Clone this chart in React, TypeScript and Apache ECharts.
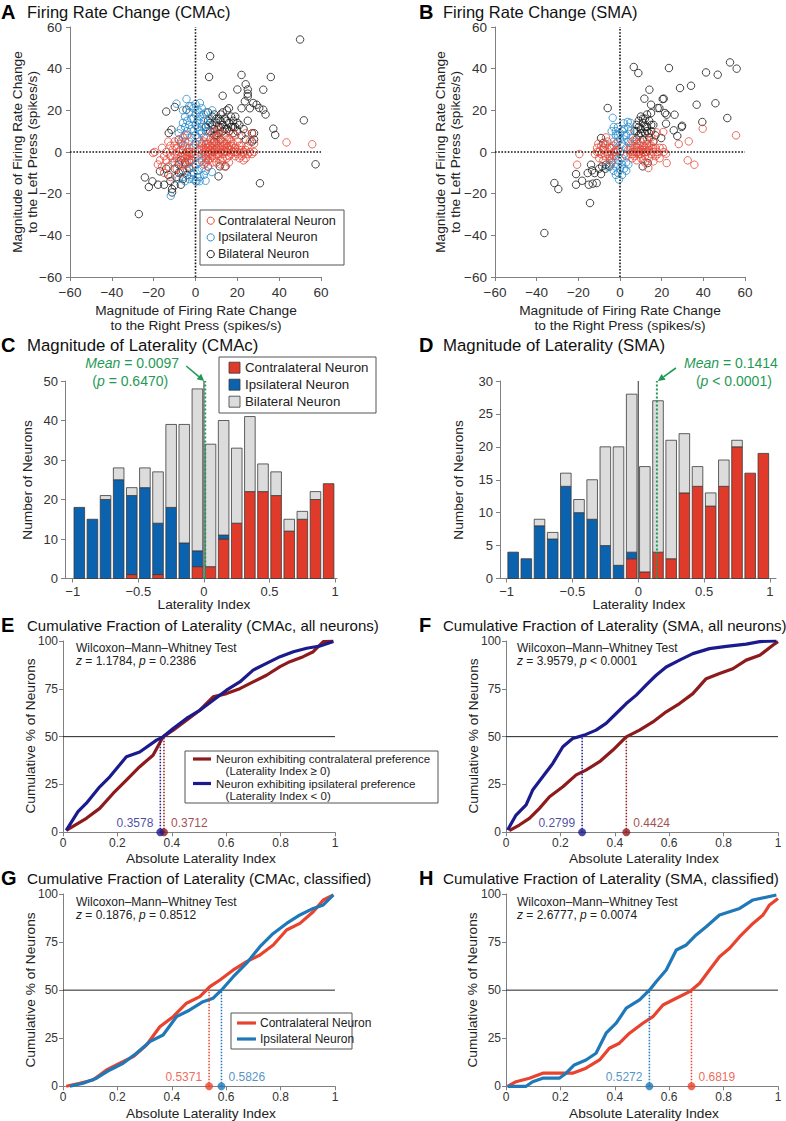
import React, { useEffect, useRef } from "react";
import * as echarts from "echarts";

const FONT = '"Liberation Sans", Arial, Helvetica, sans-serif';

// ---------- colours ----------
const SC_RED = "#e5483a";
const SC_BLUE = "#2b8ccc";
const SC_BLACK = "#1a1a1a";
const H_RED = "#e03a2a";
const H_BLUE = "#0b63b0";
const H_GRAY = "#dcdcdc";
const D_RED = "#8e1b1b";
const D_BLUE = "#1b1b8e";
const C_RED = "#e8432e";
const C_BLUE = "#1f78b8";
const GREEN = "#1f9a55";
const AXIS = "#808080";
const TXT = "#222";

// ---------- panel texts ----------
const panelLetters = ["A", "B", "C", "D", "E", "F", "G", "H"];
const panelTitles = [
  "Firing Rate Change (CMAc)",
  "Firing Rate Change (SMA)",
  "Magnitude of Laterality (CMAc)",
  "Magnitude of Laterality (SMA)",
  "Cumulative Fraction of Laterality (CMAc, all neurons)",
  "Cumulative Fraction of Laterality (SMA, all neurons)",
  "Cumulative Fraction of Laterality (CMAc, classified)",
  "Cumulative Fraction of Laterality (SMA, classified)",
];
const neuronTypes = ["Contralateral Neuron", "Ipsilateral Neuron", "Bilateral Neuron"];

// ---------- A: scatter CMAc ----------
const contraA = [
  [2, 1], [3, -1], [3, 3], [4, 0], [4, 5], [5, -2], [5, 2], [5, 7], [6, 0], [6, 4], [6, -4], [7, 1], [7, 3], [7, -1], [7, 6],
  [8, -2], [8, 2], [8, 4], [8, 9], [9, 0], [9, -3], [9, 3], [9, 6], [10, 1], [10, -1], [10, 4], [11, 2], [11, -2], [11, 7],
  [12, 0], [12, 3], [12, -4], [13, 1], [13, 5], [13, -1], [14, 2], [14, 8], [15, 0], [15, -3], [15, 4], [16, 1], [16, 6],
  [17, -1], [17, 3], [18, 0], [18, 9], [19, 2], [19, -2], [20, 0], [20, 5], [21, 1], [22, -2], [22, 3], [23, -1], [23, 0],
  [24, -3], [24, 1], [25, 3], [26, 0], [27, -1], [28, 0], [28, 4], [27, 9], [24, 9], [19, 8], [16, -5], [12, -6], [10, -5],
  [6, -7], [3, -4], [2, 5], [4, -6], [9, 10], [11, 11], [14, -7], [21, -3], [23, -4], [26, 5], [43.5, 4.6], [55.8, 3.7],
  [4, 2], [6, 2], [8, 0], [10, 2], [12, 1], [14, 0], [8, -5], [5, -5], [13, 3], [15, 2], [17, 1], [11, 5], [16, 3], [18, 4],
  [5, 4], [7, -3], [9, 1], [11, -1], [13, -3], [15, 6], [17, 5], [19, 0], [21, 3], [3, 1], [6, -1], [10, 7], [12, 9], [20, -1],
  [25, -1], [22, 1], [16, -2], [14, 4],
  [-1, -2], [-2, 0], [-2, -4], [-3, 2], [-3, -2], [-4, 0], [-4, -5], [-5, 3], [-5, -1], [-5, -3], [-6, 1], [-6, -6], [-7, 4],
  [-7, -2], [-8, 0], [-8, 6], [-9, -3], [-9, 2], [-10, -1], [-10, 5], [-11, -5], [-11, 1], [-12, 3], [-12, -2], [-13, -7],
  [-14, 0], [-14, -4], [-15, -10], [-16, -7], [-17, -4], [-19.5, 0], [-20.3, -0.5], [-13, 5], [-6, 7], [-4, 8], [-9, -8],
  [-3, -7], [-1, 3], [-12, -12], [-7, -10], [-2, -1], [-4, -2], [-6, -2], [-3, 0], [-7, 1], [-5, -6], [-8, -5], [-10, 3],
  [-5, 5], [-3, -4], [-11, -3], [-15, -2], [-16, 2], [-18, -6],
];
const ipsiA = [
  [-4.3, 25.4], [-9.1, 23.2], [2.1, 23.5], [-1, 21], [1, 20], [3, 21], [-3, 19], [0, 18], [2, 17], [5, 19], [-5, 17], [-2, 16],
  [1, 15], [4, 15], [-6, 14], [-3, 13], [0, 13], [3, 12], [6, 13], [-7, 11], [-4, 10], [-1, 10], [2, 10], [5, 10], [-5, 8],
  [-2, 7], [1, 7], [4, 7], [-8, 6], [-3, 5], [0, 4], [3, 4], [-6, 3], [-1, 2], [7, 16], [8, 20], [-2, 22], [-8, 9], [1, -2],
  [2, -5], [0, -6], [-2, -4], [3, -8], [1, -9], [-1, -10], [4, -11], [2, -12], [-3, -13], [0, -14], [0.5, -14.1], [4.8, -13.8],
  [7.8, -9.6], [6, -7], [-4, -9], [-6, -12], [-11.8, -21], [5, -3], [-8, -13], [-10, -5], [-2, 11], [1, 12], [3, 9], [-4, 15],
  [0, 8], [2, 14], [-1, -7], [3, -3], [-2, -11], [1, -12], [-5, 12], [-3, 22], [0, 23], [4, 18], [6, 10], [-7, 5], [-1, 16],
  [2, 19], [-6, 20], [-3, -5], [2, -14], [5, -9], [-5, -14], [-1, -13],
];
const bilatA = [
  [50, 54], [7, 46], [6.5, 36], [22, 37], [36, 36], [13, 27], [20, 30], [24, 32.5], [25, 30], [25, 28], [25, 26.7], [23.6, 24.3],
  [32.4, 29.9], [27.6, 23.5], [29.2, 22.7], [30.5, 21.1], [32.4, 20.3], [33.5, 18], [26, 21], [22, 21], [51.8, 15.2], [37.2, 11.2],
  [38.1, 8.2], [57.4, -5.9], [30.8, -15], [11, -11.7], [-14, 19.4], [-9.9, 21.6], [-4.3, 20.3], [-12.8, 9.1], [-11.5, 10.7],
  [-24.2, -12.2], [-22.3, -16.8], [-20.6, -14.1], [-17.9, -15.7], [-15, -15.7], [-17, -9.3], [-11.2, -17.8], [-11.2, -19.4],
  [-7, -15.7], [-27.1, -29.8], [-9, -12], [-6, -9], [-8, -6], [-5, -5], [-10, -8], [-7, -4], [-4, -11], [-13, -11], [-14, -8],
  [5, 12], [6, 15], [7, 10], [8, 13], [8, 17], [9, 8], [9, 11], [10, 14], [10, 16], [11, 9], [11, 12], [12, 15], [12, 18],
  [13, 10], [13, 13], [14, 16], [15, 11], [15, 20], [16, 14], [17, 12], [17, 17], [18, 9], [18, 15], [19, 12], [20, 10],
  [21, 13], [22, 8], [23, 11], [24, 6], [27, 9], [27, 5], [25, 15], [9, 5], [12, 6], [6, 19], [16, 21], [14.4, -6.9],
  [11.6, -6.9], [28, 9], [28, 6], [7, 14], [9, 18], [11, 16], [13, 19], [14, 11], [16, 10], [18, 12], [20, 14], [19, 17],
  [10, 8], [12, 12], [15, 15], [-6, -13], [-8, -10], [-12, -14], [-10, -16], [-3, -8],
];

// ---------- B: scatter SMA ----------
const contraB = [
  [55.7, 8], [39.7, 11.2], [33, 5.1], [28.2, 3.8], [32.5, -4], [35.7, -6.1], [22.1, -0.8], [22.4, -5.3], [20.5, 1.9],
  [17.6, 9.4], [20.8, 9.6], [16, -4.5], [13.6, -7.7], [-19.5, -1], [-20.6, -6.1], [-10.4, 4], [-6.7, 7], [-7, 3.2],
  [4, 1], [5, -1], [5, 3], [6, 0], [6, 5], [7, 2], [7, -2], [8, 0], [8, 4], [9, -1], [9, 2], [10, 1], [10, -3], [10, 5],
  [11, 0], [11, 3], [12, -2], [12, 2], [13, 0], [13, 4], [14, 1], [14, -3], [15, -1], [15, 3], [16, 0], [16, 5], [17, 2],
  [17, -2], [18, 0], [18, -1], [19, 2], [12, -5], [8, -4], [6, -3], [15, 7], [19, -3], [21, 0], [3, -2], [7, 6], [9, 4],
  [11, -4], [13, 6], [5, 1], [7, 0], [9, 0], [11, 1], [13, 2], [8, 2], [10, -1], [12, 0], [14, 3], [16, 2], [6, -1],
  [-1, 1], [-2, -2], [-3, 0], [-3, 3], [-4, -1], [-5, 2], [-5, -3], [-6, 0], [-7, -2], [-7, 4], [-8, 1],
  [-8, -4], [-9, -1], [-9, 3], [-10, -3], [-11, 0], [-11, 2], [-12, -1], [-4, -5], [-2, 4], [-6, 5], [-4, 2], [-6, -1],
  [-8, 2], [-10, 0], [-2, 0], [-5, -2],
];
const ipsiB = [
  [-3.5, 16.4], [3.7, 14.4], [1.8, 13.8], [5, 14], [-1, 12], [2, 11], [-4, 10], [-2, 8], [0, 9], [3, 8], [5, 10], [-3, 5],
  [-1, 5], [1, 4], [4, 5], [6, 7], [-2, 1], [0, 0], [2, -1], [-4, -3], [-1, -4], [1, -3], [3, -5], [-2, -7], [0, -8], [2, -8],
  [-3, -9], [-1, -10], [1, -11], [4, -6], [-5, -6], [-0.5, -13.2], [-6, -7], [5, 2], [-3, 12], [2, 6], [0, 6], [-1, -6], [3, 2],
  [-2, 10], [1, 10], [4, 12], [-1, 8], [2, 8], [-3, -2], [1, -6], [-2, -11], [3, -9],
];
const bilatB = [
  [6.6, 40.8], [8.8, 37.9], [23.5, 40.3], [52.8, 43], [56, 40], [41.3, 38.2], [46.9, 37.1], [34.1, 31.8], [28.8, 30.7],
  [14.1, 29.9], [11.7, 25.6], [20.5, 25.4], [21, 25.6], [36.8, 22.7], [45.8, 23.4], [51.5, 16.3], [39.5, 14.4], [29.8, 12.6],
  [29.6, 12], [27.5, 7.7], [25.8, 10.4], [26.2, 17.9], [22.4, 17.9], [21.6, 18.7], [18.9, 21.1], [18.1, 21.1], [22.1, 13.6],
  [14.9, 22.7], [14.9, 18.7], [-5.9, 21.1], [-36.3, -38.9], [-14.4, -24.5], [-31.5, -14.9], [-29.6, -17.8], [-21.1, -10.6],
  [-21.1, -15.7], [-18.2, -13.8], [-15.5, -10.1], [-13.9, -6.1], [-15, -15.7], [-13.1, -15.2], [-11.2, -14.9], [-13.4, -8.8],
  [-12.2, -10.1], [-9.1, -10.6], [-8.6, -6.9], [-6.7, -6.1], [-9.1, 6.7], [-8, 4.3], [7, 10], [8, 13], [9, 8], [9, 15],
  [10, 11], [11, 6], [11, 14], [12, 9], [12, 16], [13, 12], [14, 7], [14, 15], [15, 10], [16, 13], [17, 8], [10, 17], [8, 6],
  [13, 18], [16, 5], [10.9, -6.9], [13.3, -5.3], [19.8, 6.7], [8, 10], [10, 9], [12, 12], [11, 16], [13, 10], [15, 13],
  [9, 12], [14, 9], [-7, -8], [-10, -8], [-5, -7],
];

// ---------- C / D: histograms ----------
const binCenters = [-0.95, -0.85, -0.75, -0.65, -0.55, -0.45, -0.35, -0.25, -0.15, -0.05, 0.05, 0.15, 0.25, 0.35, 0.45, 0.55, 0.65, 0.75, 0.85, 0.95];
const histC_contra = [0, 0, 0, 0, 1, 0, 1, 0, 0, 3, 3, 10, 14, 22, 22, 21, 12, 15, 20, 24];
const histC_ipsi = [18, 15, 20, 25, 20, 23, 13, 18, 9, 4, 0, 1, 0, 0, 0, 0, 0, 0, 0, 0];
const histC_bilat = [0, 0, 1, 3, 2, 5, 13, 21, 30, 41, 31, 29, 19, 19, 7, 6, 3, 2, 2, 0];
const histD_contra = [0, 0, 0, 0, 0, 0, 0, 0, 0, 3, 1, 4, 3, 13, 14, 11, 14, 20, 16, 19];
const histD_ipsi = [4, 3, 8, 6, 14, 10, 9, 5, 2, 1, 0, 0, 0, 0, 0, 0, 0, 0, 0, 0];
const histD_bilat = [0, 0, 1, 1, 2, 2, 6, 15, 18, 24, 16, 23, 18, 9, 3, 2, 4, 1, 0, 0];
const meanC = 0.0097;
const meanD = 0.1414;
const meanTextC = ["0.0097", "= 0.6470)"];
const meanTextD = ["0.1414", "< 0.0001)"];
const histLabelTicks = [-1, -0.5, 0, 0.5, 1];

// ---------- E-H: cumulative curves ----------
const eContra = [[0.012, 1], [0.086, 7.3], [0.135, 12.5], [0.184, 20.3], [0.233, 27.3], [0.282, 34.3], [0.331, 40.3], [0.368, 49.9], [0.405, 53.4], [0.454, 58.6], [0.503, 63.8], [0.552, 70.8], [0.601, 72.5], [0.65, 75.1], [0.699, 78.6], [0.748, 82.1], [0.798, 86.6], [0.834, 89.2], [0.883, 91.8], [0.92, 94.4], [0.957, 99.7], [0.994, 100]];
const eIpsi = [[0.012, 1], [0.055, 10.8], [0.086, 15.2], [0.135, 23.8], [0.172, 29], [0.233, 39.5], [0.282, 42], [0.344, 48.2], [0.368, 49.9], [0.405, 54.3], [0.454, 59.5], [0.503, 63.8], [0.552, 69], [0.601, 74.3], [0.65, 78.6], [0.699, 84.8], [0.748, 88.3], [0.798, 91.8], [0.847, 94.4], [0.896, 96.2], [0.945, 97.4], [0.994, 99.7]];
const fIpsi = [[0.006, 1.2], [0.037, 9], [0.074, 14.3], [0.098, 22.1], [0.135, 29], [0.172, 36], [0.209, 44.7], [0.245, 49], [0.288, 50.8], [0.331, 53.4], [0.368, 56.9], [0.405, 62.1], [0.442, 67.3], [0.479, 71.7], [0.515, 76.9], [0.552, 82.1], [0.589, 86.4], [0.638, 90], [0.687, 93.4], [0.748, 96], [0.81, 97.2], [0.883, 98.4], [0.933, 99.7], [0.994, 100]];
const fContra = [[0.012, 0.9], [0.049, 3.8], [0.086, 7.3], [0.123, 12.5], [0.16, 18.6], [0.209, 23.8], [0.258, 30], [0.294, 32.5], [0.344, 36.9], [0.393, 43], [0.442, 49.9], [0.491, 53.4], [0.54, 57.7], [0.589, 63], [0.638, 67.3], [0.687, 72.5], [0.736, 80.3], [0.785, 83], [0.834, 85.5], [0.883, 90], [0.933, 92.5], [0.982, 97.9], [1, 99.7]];
const gContra = [[0.012, 0], [0.061, 1.6], [0.11, 3.3], [0.16, 8.5], [0.209, 12], [0.258, 15.4], [0.307, 21.5], [0.356, 31], [0.405, 36.2], [0.454, 43.2], [0.503, 46.6], [0.54, 51.8], [0.577, 55.3], [0.626, 60.5], [0.675, 64.8], [0.724, 68.3], [0.773, 73.5], [0.822, 81.3], [0.871, 84.7], [0.92, 90.8], [0.957, 96.9], [0.994, 99.5]];
const gIpsi = [[0.025, 0], [0.074, 1.6], [0.123, 4.2], [0.172, 8.5], [0.221, 12], [0.27, 17.2], [0.319, 23.2], [0.368, 26.7], [0.417, 36.2], [0.466, 39.7], [0.515, 44], [0.552, 45.8], [0.583, 50.1], [0.626, 57], [0.675, 64], [0.724, 72.6], [0.773, 79.5], [0.822, 84.7], [0.871, 89.1], [0.92, 92.5], [0.957, 94.3], [0.994, 99.5]];
const hContra = [[0.006, 0], [0.037, 2.4], [0.086, 4.2], [0.135, 6.8], [0.196, 6.8], [0.245, 6.8], [0.294, 9.4], [0.344, 13.7], [0.38, 19.8], [0.417, 22.4], [0.454, 27.6], [0.503, 32.8], [0.54, 36.2], [0.577, 42.3], [0.626, 45.8], [0.675, 49.2], [0.712, 53.6], [0.748, 60.5], [0.785, 67.4], [0.822, 71.8], [0.859, 77.8], [0.908, 84.7], [0.945, 89.1], [0.969, 94.3], [1, 97.7]];
const hIpsi = [[0.006, 0], [0.074, 0], [0.098, 2.4], [0.135, 4.2], [0.196, 4.2], [0.221, 6.8], [0.251, 11.1], [0.294, 13.7], [0.331, 17.2], [0.368, 27.6], [0.405, 32.8], [0.442, 40.6], [0.491, 44.9], [0.528, 50.1], [0.552, 54.4], [0.589, 60.5], [0.626, 70.9], [0.663, 73.5], [0.699, 78.7], [0.736, 83], [0.785, 89.1], [0.859, 92.5], [0.908, 96.9], [0.994, 99.5]];
const medians = {
  E: { contra: 0.3712, ipsi: 0.3578 },
  F: { contra: 0.4424, ipsi: 0.2799 },
  G: { contra: 0.5371, ipsi: 0.5826 },
  H: { contra: 0.6819, ipsi: 0.5272 },
};
const statsText = [
  ["1.1784", "= 0.2386"],
  ["3.9579", "< 0.0001"],
  ["0.1876", "= 0.8512"],
  ["2.6777", "= 0.0074"],
];
const legendE = [
  "Neuron exhibiting contralateral preference\n   (Laterality Index \u2265 0)",
  "Neuron exhibiting ipsilateral preference\n   (Laterality Index < 0)",
];

// ---------- layout ----------
const GRIDS = [
  { left: 70, top: 27, width: 251, height: 250 },
  { left: 495, top: 27, width: 250, height: 250 },
  { left: 65, top: 381, width: 272, height: 197.5 },
  { left: 500, top: 381, width: 276, height: 197.5 },
  { left: 63, top: 641, width: 272, height: 191.3 },
  { left: 506, top: 641, width: 272, height: 191.3 },
  { left: 63, top: 894, width: 272, height: 192.3 },
  { left: 506, top: 894, width: 272, height: 192.3 },
];

const neg = (v: number) => String(v).replace("-", "\u2212");

function axisBase(gi: number, fs: number, margin: number) {
  return {
    gridIndex: gi,
    type: "value",
    splitLine: { show: false },
    axisLine: { onZero: false, lineStyle: { color: AXIS, width: 1 } },
    axisTick: { length: 4, lineStyle: { color: AXIS } },
    axisLabel: { fontSize: fs, color: "#333", fontFamily: FONT, formatter: neg, margin },
  };
}

function buildOption() {
  const xAxis: any[] = [];
  const yAxis: any[] = [];
  for (const gi of [0, 1]) {
    xAxis.push({ ...axisBase(gi, 13.5, 8), min: -60, max: 60, interval: 20 });
    yAxis.push({ ...axisBase(gi, 13.5, 8), min: -60, max: 60, interval: 20 });
  }
  const histRanges = [[-1.059, 1.014], [-1.05, 1.046]];
  [2, 3].forEach((gi, k) => {
    const base: any = axisBase(gi, 13, 6);
    xAxis.push({
      ...base,
      min: histRanges[k][0],
      max: histRanges[k][1],
      axisTick: { ...base.axisTick, customValues: histLabelTicks },
      axisLabel: { ...base.axisLabel, customValues: histLabelTicks },
    });
    yAxis.push({ ...axisBase(gi, 13, 7), min: 0, max: k === 0 ? 50 : 30, interval: k === 0 ? 10 : 5 });
  });
  for (const gi of [4, 5, 6, 7]) {
    xAxis.push({ ...axisBase(gi, 12, 5), min: 0, max: 1, interval: 0.2 });
    yAxis.push({ ...axisBase(gi, 12, 5), min: 0, max: 100, interval: 25 });
  }

  const series: any[] = [];
  const dotted = (gi: number, data: any[], color: string, width = 1.5) => ({
    type: "line", xAxisIndex: gi, yAxisIndex: gi, data, symbol: "none", silent: true,
    lineStyle: { color, width, type: "dotted" },
  });
  const solid = (gi: number, data: any[], color: string, width = 1) => ({
    type: "line", xAxisIndex: gi, yAxisIndex: gi, data, symbol: "none", silent: true,
    lineStyle: { color, width },
  });
  const scatter = (gi: number, data: any[], color: string) => ({
    type: "scatter", xAxisIndex: gi, yAxisIndex: gi, data, symbol: "circle", symbolSize: 7.5, silent: true,
    itemStyle: { color: "rgba(0,0,0,0)", borderColor: color, borderWidth: 1 },
  });

  [[bilatA, ipsiA, contraA], [bilatB, ipsiB, contraB]].forEach((sets, gi) => {
    series.push(dotted(gi, [[0, -60], [0, 60]], "#111", 1.6));
    series.push(dotted(gi, [[-60, 0], [60, 0]], "#111", 1.6));
    series.push(scatter(gi, sets[0], SC_BLACK));
    series.push(scatter(gi, sets[1], SC_BLUE));
    series.push(scatter(gi, sets[2], SC_RED));
  });

  // C, D stacked histograms (custom series, stack bases from the arrays)
  const hists = [
    { gi: 2, top: 50, mean: meanC, sets: [histC_contra, histC_ipsi, histC_bilat] },
    { gi: 3, top: 30, mean: meanD, sets: [histD_contra, histD_ipsi, histD_bilat] },
  ];
  const hColors = [H_RED, H_BLUE, H_GRAY];
  hists.forEach((h) => {
    series.push(solid(h.gi, [[0, 0], [0, h.top]], "#333", 1));
    const base = binCenters.map(() => 0);
    h.sets.forEach((vals, k) => {
      const data: any[] = [];
      binCenters.forEach((x, i) => {
        if (vals[i] > 0) data.push([x, base[i], base[i] + vals[i]]);
        base[i] += vals[i];
      });
      const color = hColors[k];
      series.push({
        type: "custom", xAxisIndex: h.gi, yAxisIndex: h.gi, silent: true, data,
        encode: { x: 0, y: [1, 2] },
        renderItem: (params: any, api: any) => {
          const x = api.value(0);
          const lo = api.coord([x, api.value(1)]);
          const hi = api.coord([x, api.value(2)]);
          return {
            type: "rect",
            shape: { x: lo[0] - 5.3, y: hi[1], width: 10.6, height: lo[1] - hi[1] },
            style: { fill: color, stroke: "#3a3a3a", lineWidth: 0.8 },
          };
        },
      });
    });
    series.push(dotted(h.gi, [[h.mean, 0], [h.mean, h.top]], GREEN, 2));
  });

  // E-H
  const curves = [
    { gi: 4, c: eContra, i: eIpsi, m: medians.E, cr: D_RED, cb: D_BLUE },
    { gi: 5, c: fContra, i: fIpsi, m: medians.F, cr: D_RED, cb: D_BLUE },
    { gi: 6, c: gContra, i: gIpsi, m: medians.G, cr: C_RED, cb: C_BLUE },
    { gi: 7, c: hContra, i: hIpsi, m: medians.H, cr: C_RED, cb: C_BLUE },
  ];
  curves.forEach((cv) => {
    series.push(solid(cv.gi, [[0, 50], [1, 50]], "#222", 1));
    series.push(solid(cv.gi, cv.c, cv.cr, 3.2));
    series.push(solid(cv.gi, cv.i, cv.cb, 3.2));
    const pairs = [
      { v: cv.m.contra, col: cv.cr },
      { v: cv.m.ipsi, col: cv.cb },
    ];
    const lowV = Math.min(cv.m.contra, cv.m.ipsi);
    pairs.forEach((p) => {
      series.push(dotted(cv.gi, [[p.v, 0], [p.v, 50]], p.col, 1.5));
      series.push({
        type: "scatter", xAxisIndex: cv.gi, yAxisIndex: cv.gi, data: [[p.v, 0]], symbolSize: 8, clip: false, silent: true,
        itemStyle: { color: p.col },
        label: {
          show: true, formatter: p.v.toFixed(4), position: p.v === lowV ? "left" : "right", distance: 3,
          offset: [0, -9], color: p.col, fontSize: 12, fontFamily: FONT,
        },
      });
    });
  });

  return {
    animation: false,
    backgroundColor: "#fff",
    grid: GRIDS.map((g) => ({ ...g, containLabel: false })),
    xAxis,
    yAxis,
    series,
  };
}

function text(x: number, y: number, t: string, o: any = {}) {
  return {
    type: "text", x, y, silent: true, rotation: o.rotation || 0,
    style: {
      text: t, fill: o.color || TXT, fontSize: o.size || 13, fontFamily: FONT, fontWeight: o.weight || "normal",
      align: o.align || "left", textAlign: o.align || "left",
      verticalAlign: o.va || "middle", textVerticalAlign: o.va || "middle",
      lineHeight: o.lh, rich: o.rich,
    },
  };
}

function arrow(x1: number, y1: number, x2: number, y2: number, color: string) {
  const ang = Math.atan2(y2 - y1, x2 - x1);
  const L = 7, W = 3.5;
  const bx = x2 - L * Math.cos(ang), by = y2 - L * Math.sin(ang);
  const px = -Math.sin(ang) * W, py = Math.cos(ang) * W;
  return [
    { type: "line", silent: true, shape: { x1, y1, x2: bx, y2: by }, style: { stroke: color, lineWidth: 1.6 } },
    { type: "polygon", silent: true, shape: { points: [[x2, y2], [bx + px, by + py], [bx - px, by - py]] }, style: { fill: color } },
  ];
}

function richStyle(size: number, color: string) {
  return {
    i: { fontStyle: "italic", fontSize: size, fontFamily: FONT, fill: color },
    n: { fontSize: size, fontFamily: FONT, fill: color },
  };
}

function buildGraphic(chart: any) {
  const els: any[] = [];
  const titleY = [12, 12, 345, 345, 625, 625, 878, 878];
  const titleSize = [16.5, 16.5, 16.8, 16.8, 15, 15, 15.2, 15.2];
  panelLetters.forEach((L, i) => {
    const right = i % 2 === 1;
    els.push(text(right ? 419 : 1, titleY[i], L, { size: 20, weight: "bold", color: "#000" }));
    els.push(text(right ? 443 : 27, titleY[i], panelTitles[i], { size: titleSize[i], color: "#111" }));
  });

  const yT2 = "Magnitude of Firing Rate Change\nto the Left Press (spikes/s)";
  const xT2 = "Magnitude of Firing Rate Change\nto the Right Press (spikes/s)";
  els.push(text(24.5, 152, yT2, { align: "center", rotation: Math.PI / 2, lh: 15, size: 13.7 }));
  els.push(text(448, 152, yT2, { align: "center", rotation: Math.PI / 2, lh: 15, size: 13.7 }));
  els.push(text(196, 318, xT2, { align: "center", lh: 15, size: 13.7 }));
  els.push(text(620, 318, xT2, { align: "center", lh: 15, size: 13.7 }));
  els.push(text(27, 480, "Number of Neurons", { align: "center", rotation: Math.PI / 2, size: 13.7 }));
  els.push(text(458, 480, "Number of Neurons", { align: "center", rotation: Math.PI / 2, size: 13.7 }));
  els.push(text(204, 604.5, "Laterality Index", { align: "center", size: 13.7 }));
  els.push(text(639, 604.5, "Laterality Index", { align: "center", size: 13.7 }));
  const cum = "Cumulative % of Neurons";
  els.push(text(30, 736, cum, { align: "center", rotation: Math.PI / 2, size: 13.7 }));
  els.push(text(473, 736, cum, { align: "center", rotation: Math.PI / 2, size: 13.7 }));
  els.push(text(30, 990, cum, { align: "center", rotation: Math.PI / 2, size: 13.7 }));
  els.push(text(472, 990, cum, { align: "center", rotation: Math.PI / 2, size: 13.7 }));
  const abs = "Absolute Laterality Index";
  els.push(text(201, 858, abs, { align: "center", size: 13.7 }));
  els.push(text(644, 858, abs, { align: "center", size: 13.7 }));
  els.push(text(201, 1113, abs, { align: "center", size: 13.7 }));
  els.push(text(644, 1113, abs, { align: "center", size: 13.7 }));

  // Legend A (circles)
  els.push({ type: "rect", silent: true, shape: { x: 200, y: 210, width: 144, height: 55 }, style: { fill: "#fff", stroke: "#555", lineWidth: 1 } });
  [SC_RED, SC_BLUE, SC_BLACK].forEach((c, k) => {
    const y = 220.7 + k * 16.7;
    els.push({ type: "circle", silent: true, shape: { cx: 210.7, cy: y, r: 3.6 }, style: { fill: "none", stroke: c, lineWidth: 1 } });
    els.push(text(218, y, neuronTypes[k], { size: 12.7 }));
  });

  // Legend C (squares)
  els.push({ type: "rect", silent: true, shape: { x: 219, y: 357, width: 157, height: 56 }, style: { fill: "#fff", stroke: "#555", lineWidth: 1 } });
  [H_RED, H_BLUE, H_GRAY].forEach((c, k) => {
    const y = 367.7 + k * 17;
    els.push({ type: "rect", silent: true, shape: { x: 229, y: y - 5.5, width: 11, height: 11 }, style: { fill: c, stroke: "#3a3a3a", lineWidth: 0.8 } });
    els.push(text(245, y, neuronTypes[k], { size: 13.3 }));
  });

  // Mean annotations
  const rG = richStyle(14, GREEN);
  const pc = chart.convertToPixel({ gridIndex: 2 }, [meanC, 50]);
  els.push(text(pc[0] - 73, pc[1] - 18, "{i|Mean}{n| = " + meanTextC[0] + "}", { align: "center", rich: rG, color: GREEN, size: 14 }));
  els.push(text(pc[0] - 75, pc[1], "{n|(}{i|p}{n| " + meanTextC[1] + "}", { align: "center", rich: rG, color: GREEN, size: 14 }));
  els.push(...arrow(pc[0] - 19, pc[1] - 15, pc[0] - 1, pc[1], GREEN));
  const pd = chart.convertToPixel({ gridIndex: 3 }, [meanD, 30]);
  els.push(text(pd[0] + 74, pd[1] - 18, "{i|Mean}{n| = " + meanTextD[0] + "}", { align: "center", rich: rG, color: GREEN, size: 14 }));
  els.push(text(pd[0] + 77, pd[1], "{n|(}{i|p}{n| " + meanTextD[1] + "}", { align: "center", rich: rG, color: GREEN, size: 14 }));
  els.push(...arrow(pd[0] + 19, pd[1] - 13, pd[0] + 1, pd[1], GREEN));

  // Stats text
  const rS = richStyle(12, "#222");
  const statPos = [[76, 648], [517, 648], [76, 902], [517, 902]];
  statPos.forEach((p, k) => {
    els.push(text(p[0], p[1], "Wilcoxon\u2013Mann\u2013Whitney Test", { size: 12 }));
    els.push(text(p[0], p[1] + 12.5, "{i|z}{n| = " + statsText[k][0] + ", }{i|p}{n| " + statsText[k][1] + "}", { rich: rS, size: 12 }));
  });

  // Legend E
  els.push({ type: "rect", silent: true, shape: { x: 185, y: 751, width: 253, height: 52 }, style: { fill: "#fff", stroke: "#555", lineWidth: 1 } });
  [D_RED, D_BLUE].forEach((c, k) => {
    const y = 759 + k * 24.5;
    els.push({ type: "line", silent: true, shape: { x1: 193, y1: y, x2: 211, y2: y }, style: { stroke: c, lineWidth: 3.2 } });
    els.push(text(216, y + 6.1, legendE[k], { size: 11.5, lh: 12.2 }));
  });

  // Legend G
  els.push({ type: "rect", silent: true, shape: { x: 231, y: 1013, width: 121, height: 36 }, style: { fill: "#fff", stroke: "#555", lineWidth: 1 } });
  [C_RED, C_BLUE].forEach((c, k) => {
    const y = 1023 + k * 16;
    els.push({ type: "line", silent: true, shape: { x1: 237, y1: y, x2: 256, y2: y }, style: { stroke: c, lineWidth: 3.2 } });
    els.push(text(260, y, neuronTypes[k], { size: 12 }));
  });

  return els;
}

export default function App() {
  const ref = useRef<HTMLDivElement>(null);
  useEffect(() => {
    document.body.style.margin = "0";
    const chart = echarts.init(ref.current as HTMLDivElement, null, { renderer: "svg" });
    chart.setOption(buildOption() as any);
    chart.setOption({ graphic: buildGraphic(chart) } as any);
    return () => chart.dispose();
  }, []);
  return <div ref={ref} style={{ width: 786, height: 1121 }} />;
}
